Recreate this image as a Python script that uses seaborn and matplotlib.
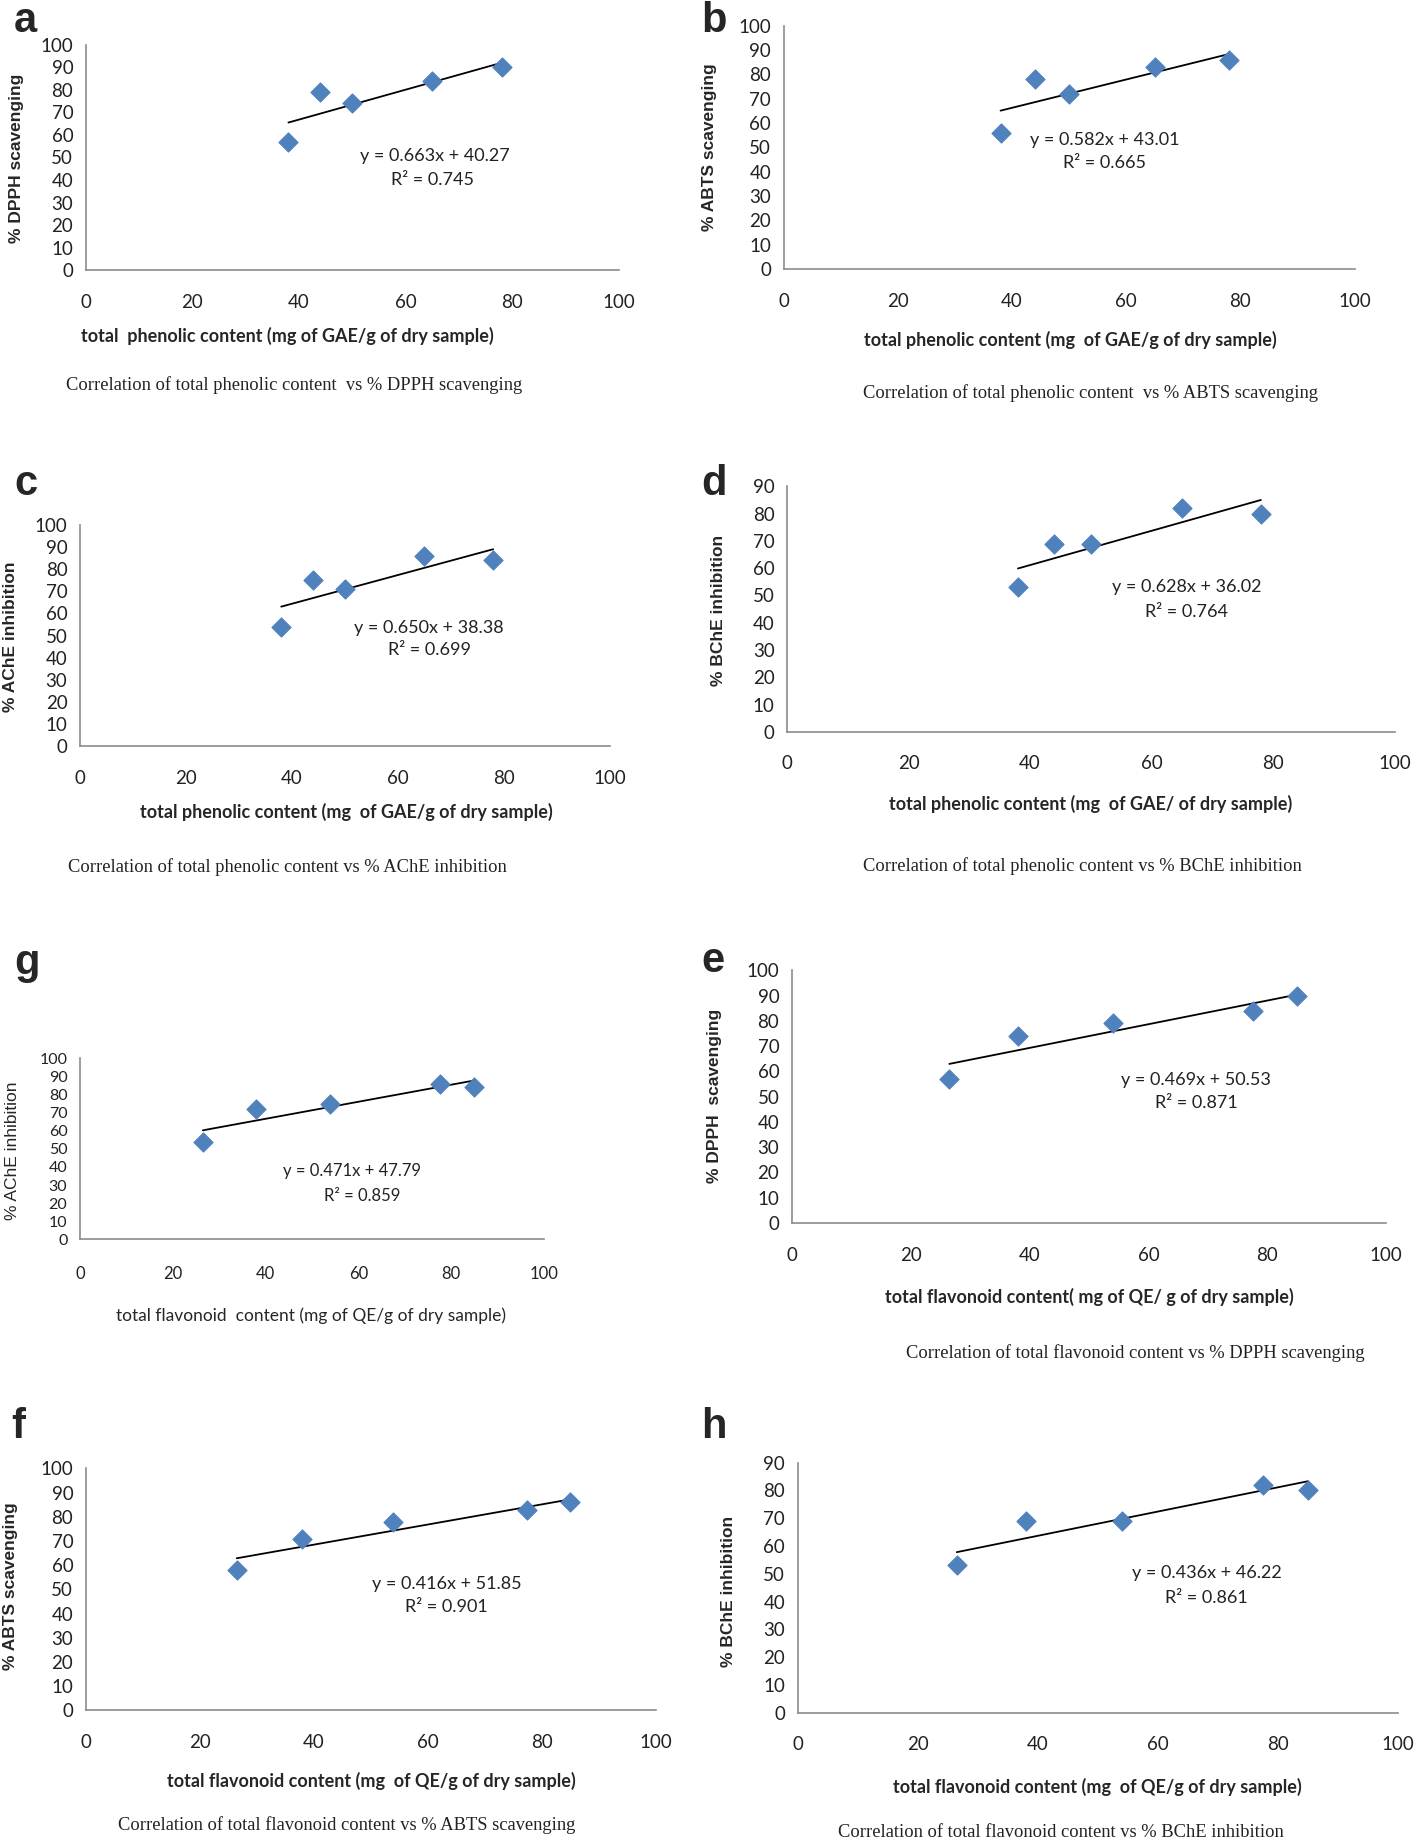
import matplotlib
matplotlib.use("Agg")
import matplotlib.pyplot as plt
import seaborn as sns
import pandas as pd

# x values: total phenolic / total flavonoid content
phenolic = [38, 44, 50, 65, 78]
flavonoid = [26.5, 38, 54, 77.5, 85]

# y values per panel
dpph_phen = [57, 79, 74, 84, 90]
abts_phen = [56, 78, 72, 83, 86]
ache_phen = [54, 75, 71, 86, 84]
bche_phen = [53, 69, 69, 82, 80]
ache_flav = [54, 72, 75, 86, 84]
dpph_flav = [57, 74, 79, 84, 90]
abts_flav = [58, 71, 78, 83, 86]
bche_flav = [53, 69, 69, 82, 80]

# trendline equations as printed on the chart
slopes = [0.663, 0.582, 0.650, 0.628, 0.471, 0.469, 0.416, 0.436]
intercepts = [40.27, 43.01, 38.38, 36.02, 47.79, 50.53, 51.85, 46.22]
r2 = [0.745, 0.665, 0.699, 0.764, 0.859, 0.871, 0.901, 0.861]

W, H = 1207, 1568  # reference coords used for layout


def fx(x):
    return x / W


def fy(y):
    return 1 - y / H


sns.set_style("white")
plt.rcParams['font.family'] = ['Lato', 'DejaVu Sans']

fig = plt.figure(figsize=(14.18, 18.42), dpi=100)

panels = [
    dict(letter='a', x=phenolic, y=dpph_phen, box=(73, 527, 38, 230), ymax=100,
         ylabel='% DPPH scavenging', ylab_pos=(14, 135),
         xlabel='total  phenolic content (mg of GAE/g of dry sample)', xlab_pos=(245, 286),
         caption='Correlation of total phenolic content  vs % DPPH scavenging', cap_pos=(250, 328),
         eq=(65.4, 50.5), r2pos=(65, 40), lpos=(12, 18)),
    dict(letter='b', x=phenolic, y=abts_phen, box=(667, 1153, 22, 229), ymax=100,
         ylabel='% ABTS scavenging', ylab_pos=(604, 125),
         xlabel='total phenolic content (mg  of GAE/g of dry sample)', xlab_pos=(911, 289),
         caption='Correlation of total phenolic content  vs % ABTS scavenging', cap_pos=(928, 335),
         eq=(56.2, 53.1), r2pos=(56.2, 43.5), lpos=(597, 18)),
    dict(letter='c', x=phenolic, y=ache_phen, box=(68, 519, 447, 635), ymax=100,
         ylabel='% AChE inhibition', ylab_pos=(9, 542),
         xlabel='total phenolic content (mg  of GAE/g of dry sample)', xlab_pos=(295, 691),
         caption='Correlation of total phenolic content vs % AChE inhibition', cap_pos=(245, 738),
         eq=(65.9, 53.2), r2pos=(65.9, 43.6), lpos=(12, 412)),
    dict(letter='d', x=phenolic, y=bche_phen, box=(670, 1187, 414, 623), ymax=90,
         ylabel='% BChE inhibition', ylab_pos=(612, 520),
         xlabel='total phenolic content (mg  of GAE/ of dry sample)', xlab_pos=(928, 684),
         caption='Correlation of total phenolic content vs % BChE inhibition', cap_pos=(921, 737),
         eq=(65.8, 53), r2pos=(65.8, 43.9), lpos=(597, 412)),
    dict(letter='g', x=flavonoid, y=ache_flav, box=(68, 463, 901, 1055), ymax=100,
         ylabel='% AChE inhibition', ylab_pos=(11, 980),
         xlabel='total flavonoid  content (mg of QE/g of dry sample)', xlab_pos=(265, 1120),
         caption=None, cap_pos=None,
         eq=(58.7, 37.7), r2pos=(60.8, 24), lpos=(12, 820)),
    dict(letter='e', x=flavonoid, y=dpph_flav, box=(674, 1180, 826, 1041), ymax=100,
         ylabel='% DPPH  scavenging', ylab_pos=(608, 933),
         xlabel='total flavonoid content( mg of QE/ g of dry sample)', xlab_pos=(927, 1104),
         caption='Correlation of total flavonoid content vs % DPPH scavenging', cap_pos=(966, 1152),
         eq=(68, 56.7), r2pos=(68, 47.4), lpos=(597, 818)),
    dict(letter='f', x=flavonoid, y=abts_flav, box=(73, 558, 1250, 1456), ymax=100,
         ylabel='% ABTS scavenging', ylab_pos=(9, 1350),
         xlabel='total flavonoid content (mg  of QE/g of dry sample)', xlab_pos=(316, 1516),
         caption='Correlation of total flavonoid content vs % ABTS scavenging', cap_pos=(295, 1554),
         eq=(63.3, 52.4), r2pos=(63.3, 42.7), lpos=(10, 1215)),
    dict(letter='h', x=flavonoid, y=bche_flav, box=(679, 1190, 1245, 1458), ymax=90,
         ylabel='% BChE inhibition', ylab_pos=(620, 1355),
         xlabel='total flavonoid content (mg  of QE/g of dry sample)', xlab_pos=(934, 1521),
         caption='Correlation of total flavonoid content vs % BChE inhibition', cap_pos=(903, 1560),
         eq=(68.1, 50.3), r2pos=(68.1, 41.4), lpos=(597, 1215)),
]

serif = ['Liberation Serif', 'DejaVu Serif']
bold_sans = ['Liberation Sans', 'DejaVu Sans']

for i, p in enumerate(panels):
    x0, x1, yt, yb = p['box']
    ax = fig.add_axes([fx(x0), fy(yb), fx(x1) - fx(x0), (yb - yt) / H])
    df = pd.DataFrame({'x': p['x'], 'y': p['y']})

    # trendline from the printed equation
    xs = [min(p['x']), max(p['x'])]
    line = pd.DataFrame({'x': xs, 'y': [slopes[i] * v + intercepts[i] for v in xs]})
    sns.lineplot(data=line, x='x', y='y', ax=ax, color='black', linewidth=1.3)
    sns.scatterplot(data=df, x='x', y='y', ax=ax, marker='D', s=95,
                    color='#4F81BD', edgecolor='#4F81BD', zorder=3)

    ax.set_xlim(0, 100)
    ax.set_ylim(0, p['ymax'])
    ax.set_xticks(range(0, 101, 20))
    ax.set_yticks(range(0, p['ymax'] + 1, 10))
    small = p['letter'] == 'g'
    ax.tick_params(axis='x', length=0, pad=17 if not small else 19,
                   labelsize=13.5 if not small else 12, labelcolor='#222222')
    ax.tick_params(axis='y', length=0, pad=9,
                   labelsize=13.5 if not small else 11.5, labelcolor='#222222')
    for s in ['top', 'right']:
        ax.spines[s].set_visible(False)
    for s in ['left', 'bottom']:
        ax.spines[s].set_color('#8c8c8c')
        ax.spines[s].set_linewidth(1.2)
    ax.set_xlabel('')
    ax.set_ylabel('')

    ax.text(p['eq'][0], p['eq'][1], f"y = {slopes[i]:.3f}x + {intercepts[i]:.2f}",
            ha='center', va='center', fontsize=13 if not small else 12, color='#222222')
    ax.text(p['r2pos'][0], p['r2pos'][1], f"R² = {r2[i]:.3f}",
            ha='center', va='center', fontsize=13 if not small else 12, color='#222222')

    fig.text(fx(p['lpos'][0]), fy(p['lpos'][1]), p['letter'], family=bold_sans,
             fontsize=30, fontweight='bold', ha='left', va='center')
    fig.text(fx(p['ylab_pos'][0]), fy(p['ylab_pos'][1]), p['ylabel'], family=bold_sans,
             fontsize=12.5, fontweight='normal' if small else 'bold',
             rotation=90, ha='center', va='center')
    fig.text(fx(p['xlab_pos'][0]), fy(p['xlab_pos'][1]), p['xlabel'],
             fontsize=13 if not small else 12.5, fontweight='normal' if small else 'bold',
             ha='center', va='center')
    if p['caption']:
        fig.text(fx(p['cap_pos'][0]), fy(p['cap_pos'][1]), p['caption'], family=serif,
                 fontsize=13.3, ha='center', va='center', color='#222222')

fig.savefig('out.png', dpi=100)
